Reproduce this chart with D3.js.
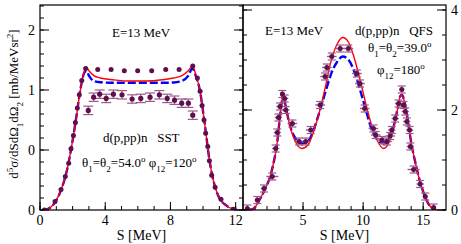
<!DOCTYPE html>
<html><head><meta charset="utf-8">
<script src="https://cdn.jsdelivr.net/npm/d3@7"></script>
<style>
body{margin:0;background:#fff;}
svg, svg text, svg tspan{font-family:"Liberation Serif","DejaVu Serif",serif;}
</style></head>
<body><svg id="c" width="461" height="244" font-family="Liberation Serif, DejaVu Serif, serif"></svg>
<script>
// ---------- data: left panel (SST) ----------
const leftDotS = [0.27,0.92,1.29,1.55,1.76,1.90,2.05,2.17,2.29,2.41,2.56,2.80,3.54,4.36,5.17,5.99,6.85,7.71,8.53,9.37,9.65,9.82,9.94,10.06,10.16,10.29,10.39,10.53,10.74,11.10,11.86];
const leftDotV = [0.0,0.07,0.17,0.28,0.39,0.51,0.62,0.73,0.85,0.96,1.08,1.18,1.17,1.17,1.16,1.16,1.16,1.17,1.17,1.20,1.10,0.99,0.87,0.75,0.64,0.53,0.41,0.29,0.19,0.09,0.006];
const leftErrS = [2.96,3.29,3.66,4.06,4.50,5.03,5.65,6.18,6.75,7.32,7.80,8.25,8.69,9.10,9.37];
const leftErrV = [0.83,0.94,0.965,0.93,0.965,0.96,0.925,0.93,0.94,0.96,0.93,0.915,0.89,0.89,0.79];
const leftErrD = [0.035,0.035,0.035,0.035,0.035,0.035,0.035,0.035,0.035,0.035,0.035,0.035,0.035,0.035,0.035];
const leftCurveS = [0.2,0.5,0.9,1.3,1.6,1.9,2.2,2.5,2.7,2.85,3.0,3.3,3.7,4.5,5.5,6.5,7.5,8.2,8.7,9.1,9.35,9.55,9.8,10.1,10.4,10.7,11.0,11.4,11.8,12.1];
const leftRedV  = [0,0.01,0.06,0.17,0.30,0.50,0.75,1.02,1.15,1.19,1.16,1.12,1.10,1.085,1.075,1.075,1.085,1.10,1.12,1.16,1.20,1.13,1.00,0.72,0.41,0.21,0.10,0.04,0.01,0];
const leftBlueV = [0,0.01,0.06,0.17,0.30,0.50,0.75,1.02,1.14,1.16,1.12,1.075,1.065,1.06,1.06,1.06,1.06,1.063,1.075,1.12,1.18,1.12,1.00,0.72,0.41,0.21,0.10,0.04,0.01,0];
const leftYTicks = [0,0.5,1,1.5];
const leftYLabels = ["0","0","1","2"];
const leftXTicks = [0,4,8,12];
const leftXLabels = ["0","4","8","12"];

// ---------- data: right panel (QFS) ----------
const rightErrS = [0.36,1.19,1.75,2.44,2.72,2.86,2.95,3.08,3.28,3.47,3.56,4.11,4.67,5.22,5.64,6.42,6.83,6.98,7.39,8.09,8.77,9.48,9.74,10.13,10.86,11.05,11.56,11.98,12.25,12.39,12.67,12.95,13.22,13.36,13.51,13.64,13.87,13.93,14.20,14.75,15.17,15.87];
const rightErrV = [0.03,0.20,0.43,0.67,1.23,1.55,1.85,2.07,2.32,2.23,2.00,1.73,1.37,1.37,1.60,2.10,2.67,2.85,3.07,3.23,3.23,2.73,2.53,2.03,1.63,1.50,1.40,1.37,1.48,1.60,1.83,2.13,2.41,2.10,1.97,1.77,1.60,1.27,0.81,0.52,0.27,0.05];
const rightErrH = [0.2,0.2,0.25,0.5,0.3,0.3,0.3,0.3,0.2,0.3,0.3,0.4,0.4,0.4,0.4,0.4,0.4,0.4,0.4,0.4,0.4,0.4,0.4,0.4,0.4,0.4,0.4,0.4,0.4,0.3,0.3,0.3,0.2,0.3,0.3,0.3,0.3,0.3,0.5,0.3,0.2,0.2];
const rightCurveS = [0.5,0.9,1.1,1.3,1.8,2.3,2.55,2.85,3.05,3.25,3.33,3.45,3.7,4.0,4.4,4.9,5.4,5.85,6.35,6.85,7.3,7.8,8.3,8.8,9.25,9.75,10.25,10.7,11.2,11.7,12.15,12.55,12.85,13.1,13.25,13.45,13.75,14.0,14.3,14.7,15.1,15.5,15.9,16.1];
const rightRedV  = [0,0.03,0.09,0.17,0.40,0.70,0.95,1.35,1.80,2.20,2.32,2.20,1.90,1.60,1.35,1.23,1.30,1.55,1.95,2.45,2.95,3.30,3.45,3.35,3.05,2.60,2.10,1.70,1.38,1.23,1.35,1.65,2.00,2.28,2.30,2.15,1.75,1.35,1.00,0.60,0.30,0.10,0.01,0];
const rightBlueV = [0,0.03,0.09,0.17,0.40,0.70,0.95,1.35,1.80,2.20,2.32,2.20,1.90,1.62,1.42,1.33,1.37,1.58,1.95,2.35,2.70,2.95,3.07,3.00,2.78,2.40,1.98,1.62,1.40,1.33,1.42,1.68,2.00,2.28,2.30,2.15,1.75,1.35,1.00,0.60,0.30,0.10,0.01,0];
const rightYTicks = [0,2,4];
const rightYLabels = ["0","2","4"];
const rightXTicks = [5,10,15];
const rightXLabels = ["5","10","15"];

// ---------- layout ----------
const svg = d3.select("#c");
const yTop = 5, yBot = 210, xL0 = 40, xMid = 243, xR1 = 446;
const dotColor = "#5e0f4c", errColor = "#9a5a8c";
const FONT = "Liberation Serif, DejaVu Serif, serif";

const xL = d3.scaleLinear().domain([0,12.45]).range([xL0,xMid]);
const yL = d3.scaleLinear().domain([0,1.7083]).range([yBot,yTop]);
const xR = d3.scaleLinear().domain([0,16.9]).range([xMid,xR1]);
const yR = d3.scaleLinear().domain([0,4.1]).range([yBot,yTop]);

const defs = svg.append("defs");
defs.append("clipPath").attr("id","clipL").append("rect").attr("x",xL0).attr("y",yTop).attr("width",xMid-xL0).attr("height",yBot-yTop);
defs.append("clipPath").attr("id","clipR").append("rect").attr("x",xMid).attr("y",yTop).attr("width",xR1-xMid).attr("height",yBot-yTop);

function ticksLine(g, pts){
  g.selectAll(null).data(pts).enter().append("line")
   .attr("x1",d=>d[0]).attr("y1",d=>d[1]).attr("x2",d=>d[2]).attr("y2",d=>d[3])
   .attr("stroke","#000").attr("stroke-width",1);
}
const tk = svg.append("g");
const lMinY = d3.range(0,1.71,0.1), lMajY = leftYTicks;
ticksLine(tk, lMinY.map(v=>[xL0,yL(v),xL0+4,yL(v)]));
ticksLine(tk, lMajY.map(v=>[xL0,yL(v),xL0+9,yL(v)]));
ticksLine(tk, lMinY.map(v=>[xMid,yL(v),xMid-4,yL(v)]));
ticksLine(tk, lMajY.map(v=>[xMid,yL(v),xMid-9,yL(v)]));
ticksLine(tk, d3.range(0,13,1).map(s=>[xL(s),yBot,xL(s),yBot-4]));
ticksLine(tk, leftXTicks.map(s=>[xL(s),yBot,xL(s),yBot-8]));
const rMinY = d3.range(0,4.1,0.5);
ticksLine(tk, rMinY.map(v=>[xR1,yR(v),xR1-4,yR(v)]));
ticksLine(tk, rightYTicks.map(v=>[xR1,yR(v),xR1-9,yR(v)]));
ticksLine(tk, rMinY.map(v=>[xMid,yR(v),xMid+4,yR(v)]));
ticksLine(tk, rightYTicks.map(v=>[xMid,yR(v),xMid+9,yR(v)]));
ticksLine(tk, d3.range(1,17,1).map(s=>[xR(s),yBot,xR(s),yBot-4]));
ticksLine(tk, rightXTicks.map(s=>[xR(s),yBot,xR(s),yBot-8]));

const lab = svg.append("g").attr("font-size",14).attr("font-family",FONT);
lab.selectAll(null).data(leftYTicks).enter().append("text")
  .attr("x",35).attr("y",d=>yL(d)).attr("dy","0.35em").attr("text-anchor","end").text((d,i)=>leftYLabels[i]);
lab.selectAll(null).data(rightYTicks).enter().append("text")
  .attr("x",451).attr("y",d=>yR(d)).attr("dy","0.35em").attr("text-anchor","start").text((d,i)=>rightYLabels[i]);
lab.selectAll(null).data(leftXTicks).enter().append("text")
  .attr("x",d=>xL(d)).attr("y",225).attr("text-anchor","middle").text((d,i)=>leftXLabels[i]);
lab.selectAll(null).data(rightXTicks).enter().append("text")
  .attr("x",d=>xR(d)).attr("y",225).attr("text-anchor","middle").text((d,i)=>rightXLabels[i]);
lab.append("text").attr("x",(xL0+xMid)/2).attr("y",240).attr("text-anchor","middle").text("S [MeV]");
lab.append("text").attr("x",(xMid+xR1)/2).attr("y",240).attr("text-anchor","middle").text("S [MeV]");

function seg(t, txt, shift, size){ const s=t.append("tspan").text(txt); if(shift) s.attr("baseline-shift",shift); if(size) s.attr("font-size",size); return s;}
const yl = svg.append("text").attr("font-size",13).attr("font-family",FONT).attr("text-anchor","middle")
  .attr("transform","translate(18,104) rotate(-90)");
seg(yl,"d"); seg(yl,"5","super",9); seg(yl,"σ/dSdΩ"); seg(yl,"1","sub",9); seg(yl,"dΩ"); seg(yl,"2","sub",9);
seg(yl," [mb/MeVsr"); seg(yl,"2","super",9); seg(yl,"]");

function drawPanel(clip, xs, ys, curveS, redV, blueV){
  const g = svg.append("g").attr("clip-path",`url(#${clip})`);
  const line = d3.line().x(d=>xs(d[0])).y(d=>ys(d[1])).curve(d3.curveMonotoneX);
  g.append("path").datum(curveS.map((s,i)=>[s,blueV[i]])).attr("d",line)
    .attr("fill","none").attr("stroke","#0000ff").attr("stroke-width",2.4).attr("stroke-dasharray","8,3");
  g.append("path").datum(curveS.map((s,i)=>[s,redV[i]])).attr("d",line)
    .attr("fill","none").attr("stroke","#ff0000").attr("stroke-width",1.4);
  return g;
}
const gL = drawPanel("clipL", xL, yL, leftCurveS, leftRedV, leftBlueV);
const gR = drawPanel("clipR", xR, yR, rightCurveS, rightRedV, rightBlueV);

leftErrS.forEach((s,i)=>{
  const x=xL(s), y1=yL(leftErrV[i]-leftErrD[i]), y2=yL(leftErrV[i]+leftErrD[i]);
  gL.append("line").attr("x1",x).attr("x2",x).attr("y1",y1).attr("y2",y2).attr("stroke",errColor).attr("stroke-width",1.2);
  [y1,y2].forEach(yy=>gL.append("line").attr("x1",x-5).attr("x2",x+5).attr("y1",yy).attr("y2",yy).attr("stroke",errColor).attr("stroke-width",1.2));
});
gL.selectAll(null).data(leftErrS).enter().append("circle")
  .attr("cx",d=>xL(d)).attr("cy",(d,i)=>yL(leftErrV[i])).attr("r",2.6).attr("fill",dotColor);
gL.selectAll(null).data(leftDotS).enter().append("circle")
  .attr("cx",d=>xL(d)).attr("cy",(d,i)=>yL(leftDotV[i])).attr("r",2.5).attr("fill",dotColor);

rightErrS.forEach((s,i)=>{
  const x=xR(s), y=yR(rightErrV[i]), xa=xR(s-rightErrH[i]), xb=xR(s+rightErrH[i]);
  gR.append("line").attr("x1",xa).attr("x2",xb).attr("y1",y).attr("y2",y).attr("stroke",errColor).attr("stroke-width",1.4);
  gR.append("line").attr("x1",x).attr("x2",x).attr("y1",y-3.5).attr("y2",y+3.5).attr("stroke",errColor).attr("stroke-width",1.2);
  [y-3.5,y+3.5].forEach(yy=>gR.append("line").attr("x1",x-4).attr("x2",x+4).attr("y1",yy).attr("y2",yy).attr("stroke",errColor).attr("stroke-width",1.2));
});
gR.selectAll(null).data(rightErrS).enter().append("circle")
  .attr("cx",d=>xR(d)).attr("cy",(d,i)=>yR(rightErrV[i])).attr("r",2.5).attr("fill",dotColor);

svg.append("rect").attr("x",xL0).attr("y",yTop).attr("width",xMid-xL0).attr("height",yBot-yTop).attr("fill","none").attr("stroke","#000").attr("stroke-width",1.2);
svg.append("rect").attr("x",xMid).attr("y",yTop).attr("width",xR1-xMid).attr("height",yBot-yTop).attr("fill","none").attr("stroke","#000").attr("stroke-width",1.2);

const ann = svg.append("g").attr("font-size",13).attr("font-family",FONT);
function deg(t){ t.append("tspan").attr("baseline-shift","super").attr("font-size",9).text("o"); }
ann.append("text").attr("x",112).attr("y",37).text("E=13 MeV");
ann.append("text").attr("x",103).attr("y",142).attr("xml:space","preserve").text("d(p,pp)n   SST");
let t = ann.append("text").attr("x",82).attr("y",167).attr("xml:space","preserve");
seg(t,"θ"); seg(t,"1","sub",9); seg(t,"=θ"); seg(t,"2","sub",9); seg(t,"=54.0"); deg(t);
seg(t," φ"); seg(t,"12","sub",9); seg(t,"=120"); deg(t);
ann.append("text").attr("x",265).attr("y",35).text("E=13 MeV");
ann.append("text").attr("x",355).attr("y",35).attr("xml:space","preserve").text("d(p,pp)n   QFS");
t = ann.append("text").attr("x",368).attr("y",52);
seg(t,"θ"); seg(t,"1","sub",9); seg(t,"=θ"); seg(t,"2","sub",9); seg(t,"=39.0"); deg(t);
t = ann.append("text").attr("x",377).attr("y",74);
seg(t,"φ"); seg(t,"12","sub",9); seg(t,"=180"); deg(t);
</script></body></html>
